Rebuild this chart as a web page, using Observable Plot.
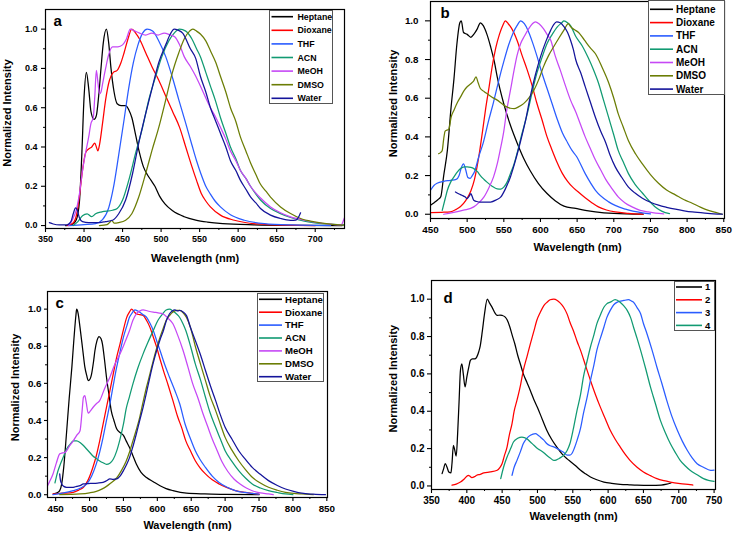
<!DOCTYPE html>
<html><head><meta charset="utf-8">
<script src="https://cdn.jsdelivr.net/npm/d3@7"></script>
<script src="https://cdn.jsdelivr.net/npm/@observablehq/plot@0.6"></script>
<style>
body{margin:0;background:#fff;}
#root{position:relative;width:733px;height:533px;overflow:hidden;font-family:"Liberation Sans",Arial,sans-serif;font-weight:bold;}
.panel{position:absolute;}
.legend{position:absolute;overflow:visible;}
</style></head><body><div id="root"></div>
<script>
// ---------- names, colours, ticks ----------
const solvents = ["Heptane","Dioxane","THF","ACN","MeOH","DMSO","Water"];
const solventColors = ["#000000","#ff0000","#2a5cff","#119a72","#c648f5","#6b7d05","#14149a"];
const samples = ["1","2","3","4"];
const sampleColors = ["#000000","#ff0000","#2a5cff","#119a72"];
const yTicks = [0,0.2,0.4,0.6,0.8,1.0];
const yMinor = [0.1,0.3,0.5,0.7,0.9];
const xTicksA = [350,400,450,500,550,600,650,700];
const xTicksB = [450,500,550,600,650,700,750,800,850];
const xTicksD = [350,400,450,500,550,600,650,700,750];
const xLabel = "Wavelength (nm)";
const yLabel = "Normalized Intensity";

// ---------- panel a ----------
const a_Heptane = [[376,0],[384,0.005],[390,0.03],[394,0.12],[397,0.35],[400,0.65],[403,0.78],[406,0.7],[409,0.58],[413,0.54],[416,0.56],[419,0.66],[422,0.8],[425,0.93],[429,1.0],[432,0.93],[435,0.8],[439,0.68],[443,0.62],[448,0.61],[454,0.61],[458,0.59],[462,0.55],[467,0.46],[472,0.37],[477,0.3],[482,0.26],[487,0.23],[492,0.2],[498,0.15],[505,0.11],[515,0.075],[530,0.045],[545,0.028],[560,0.018],[580,0.01],[620,0.004],[680,0.001],[735,0]];
const a_Dioxane = [[378,0],[385,0.01],[390,0.05],[394,0.15],[398,0.28],[402,0.37],[406,0.39],[410,0.4],[414,0.42],[416,0.4],[418,0.38],[420,0.41],[424,0.52],[428,0.64],[433,0.74],[438,0.78],[443,0.79],[448,0.83],[452,0.88],[457,0.95],[462,1.0],[467,0.98],[472,0.95],[480,0.88],[488,0.81],[497,0.74],[506,0.66],[515,0.58],[524,0.5],[532,0.4],[540,0.3],[546,0.23],[552,0.165],[558,0.125],[564,0.095],[577,0.053],[595,0.027],[625,0.008],[660,0.002],[700,0]];
const a_THF = [[380,0],[400,0.005],[415,0.01],[424,0.03],[432,0.09],[438,0.19],[445,0.36],[452,0.54],[458,0.7],[464,0.83],[470,0.92],[476,0.98],[482,1.0],[489,0.99],[497,0.94],[506,0.86],[515,0.75],[523,0.64],[532,0.52],[540,0.41],[546,0.33],[552,0.26],[558,0.2],[564,0.16],[570,0.125],[577,0.095],[590,0.055],[608,0.027],[634,0.01],[670,0.003],[720,0]];
const a_ACN = [[386,0],[392,0.02],[398,0.05],[404,0.06],[410,0.045],[415,0.06],[423,0.07],[437,0.078],[443,0.087],[450,0.13],[458,0.23],[467,0.37],[476,0.5],[484,0.64],[493,0.76],[501,0.86],[510,0.94],[517,0.98],[524,1.0],[532,0.99],[540,0.95],[546,0.9],[551,0.86],[558,0.78],[564,0.71],[571,0.63],[577,0.55],[584,0.47],[590,0.4],[597,0.34],[603,0.28],[610,0.24],[616,0.2],[623,0.16],[629,0.13],[642,0.087],[655,0.061],[668,0.041],[686,0.022],[712,0.008],[738,0.003]];
const a_MeOH = [[380,0],[385,0.03],[390,0.08],[394,0.16],[398,0.28],[402,0.37],[406,0.45],[409,0.52],[412,0.55],[414,0.66],[416,0.79],[418,0.73],[420,0.67],[422,0.68],[424,0.72],[428,0.8],[432,0.87],[437,0.91],[444,0.91],[450,0.92],[455,0.95],[460,1.0],[466,0.99],[472,0.98],[480,0.97],[488,0.98],[496,0.97],[504,0.98],[512,0.97],[518,0.96],[524,0.92],[530,0.86],[538,0.81],[545,0.76],[551,0.71],[558,0.65],[564,0.6],[571,0.55],[577,0.5],[584,0.44],[590,0.38],[597,0.33],[603,0.28],[610,0.24],[616,0.2],[623,0.165],[629,0.14],[642,0.095],[655,0.065],[668,0.044],[686,0.027],[712,0.01],[734,0.003],[736,0.02],[738,0.04]];
const a_DMSO = [[420,0],[430,0.005],[433,0.015],[436,0.027],[439,0.012],[445,0.015],[454,0.027],[462,0.06],[471,0.145],[480,0.265],[488,0.38],[497,0.5],[506,0.64],[514,0.77],[523,0.88],[530,0.95],[537,0.99],[541,1.0],[546,0.99],[551,0.975],[558,0.94],[564,0.89],[571,0.83],[577,0.76],[584,0.68],[590,0.6],[597,0.53],[603,0.45],[610,0.38],[616,0.32],[623,0.26],[629,0.21],[636,0.175],[642,0.145],[655,0.095],[668,0.061],[681,0.036],[699,0.019],[720,0.007],[738,0.002]];
const a_Water = [[355,0.015],[360,0.008],[368,0.003],[378,0.004],[383,0.02],[386,0.06],[389,0.09],[391,0.08],[394,0.04],[398,0.02],[406,0.015],[420,0.015],[428,0.02],[437,0.027],[445,0.06],[454,0.13],[463,0.265],[471,0.42],[480,0.57],[489,0.71],[497,0.83],[506,0.92],[512,0.975],[517,1.0],[522,0.995],[528,0.98],[538,0.9],[545,0.85],[551,0.76],[558,0.68],[564,0.6],[571,0.53],[577,0.47],[584,0.4],[590,0.33],[597,0.28],[603,0.23],[610,0.185],[616,0.146],[623,0.115],[629,0.087],[642,0.053],[655,0.036],[668,0.027],[675,0.028],[678,0.04],[681,0.065]];

// ---------- panel b ----------
const b_Heptane = [[450,0.047],[455,0.06],[460,0.075],[464,0.09],[468,0.2],[473,0.33],[478,0.55],[482,0.7],[486,0.88],[490,0.99],[492,1.0],[495,0.94],[500,0.93],[505,0.915],[509,0.93],[514,0.96],[518,0.99],[522,0.975],[527,0.93],[532,0.866],[537,0.79],[541,0.71],[550,0.57],[559,0.46],[568,0.37],[577,0.29],[586,0.225],[597,0.16],[609,0.107],[620,0.07],[632,0.042],[648,0.03],[661,0.02],[675,0.012],[700,0.004],[740,0]];
const b_Dioxane = [[450,0.008],[465,0.01],[477,0.012],[485,0.025],[491,0.04],[498,0.07],[505,0.12],[510,0.18],[516,0.3],[521,0.43],[525,0.54],[530,0.66],[534,0.76],[539,0.86],[544,0.93],[549,0.98],[552,1.0],[556,0.985],[560,0.965],[568,0.9],[575,0.82],[582,0.745],[589,0.66],[595,0.575],[602,0.49],[609,0.4],[616,0.33],[623,0.265],[630,0.21],[637,0.17],[644,0.14],[650,0.12],[661,0.085],[670,0.06],[679,0.038],[690,0.022],[702,0.012],[720,0.005],[740,0]];
const b_THF = [[450,0.124],[455,0.15],[459,0.16],[468,0.17],[477,0.175],[485,0.18],[489,0.2],[492,0.24],[495,0.26],[498,0.23],[501,0.19],[504,0.185],[507,0.2],[510,0.22],[516,0.3],[522,0.37],[529,0.48],[536,0.58],[543,0.69],[550,0.79],[557,0.88],[563,0.94],[568,0.975],[573,1.0],[578,0.985],[583,0.95],[589,0.89],[595,0.82],[602,0.73],[609,0.65],[616,0.57],[623,0.49],[630,0.42],[637,0.37],[643,0.33],[649,0.3],[661,0.21],[675,0.124],[693,0.064],[716,0.026],[739,0.007],[750,0.002]];
const b_ACN = [[466,0.02],[470,0.08],[473,0.124],[478,0.17],[482,0.193],[487,0.22],[491,0.236],[496,0.245],[500,0.245],[505,0.242],[509,0.236],[514,0.22],[518,0.2],[523,0.18],[527,0.166],[534,0.145],[541,0.131],[546,0.13],[550,0.14],[555,0.17],[559,0.21],[564,0.26],[568,0.314],[575,0.42],[582,0.52],[588,0.62],[595,0.728],[602,0.81],[609,0.883],[616,0.93],[623,0.969],[629,0.99],[632,1.0],[637,0.99],[641,0.975],[648,0.92],[657,0.87],[665,0.81],[672,0.75],[679,0.68],[686,0.59],[693,0.5],[700,0.41],[706,0.33],[713,0.27],[720,0.21],[729,0.155],[739,0.11],[748,0.07],[757,0.036],[766,0.015],[776,0.003]];
const b_MeOH = [[468,0],[480,0.008],[495,0.021],[509,0.038],[516,0.06],[523,0.09],[530,0.14],[536,0.193],[541,0.26],[545,0.331],[550,0.43],[554,0.538],[559,0.64],[564,0.745],[568,0.82],[573,0.883],[578,0.92],[584,0.96],[589,0.985],[593,0.995],[598,0.985],[604,0.96],[609,0.93],[614,0.9],[620,0.82],[627,0.745],[634,0.665],[641,0.59],[648,0.53],[655,0.46],[661,0.4],[668,0.34],[675,0.28],[682,0.23],[689,0.18],[697,0.135],[706,0.09],[715,0.06],[725,0.038],[736,0.02],[747,0.012],[757,0.006],[768,0.002]];
const b_DMSO = [[461,0.313],[464,0.32],[466,0.33],[468,0.39],[470,0.43],[475,0.44],[478,0.5],[482,0.538],[487,0.58],[491,0.607],[496,0.64],[500,0.659],[505,0.675],[509,0.69],[512,0.71],[515,0.68],[518,0.65],[523,0.635],[527,0.624],[534,0.605],[541,0.59],[548,0.57],[554,0.555],[559,0.548],[564,0.546],[570,0.555],[577,0.572],[584,0.6],[591,0.641],[598,0.7],[604,0.762],[611,0.82],[618,0.866],[625,0.91],[632,0.952],[638,0.986],[641,0.97],[646,0.955],[652,0.94],[660,0.9],[668,0.86],[675,0.83],[684,0.76],[693,0.68],[700,0.6],[706,0.52],[713,0.45],[720,0.38],[730,0.31],[739,0.26],[750,0.205],[761,0.16],[772,0.125],[784,0.1],[796,0.075],[807,0.057],[818,0.037],[829,0.02],[840,0.008],[848,0]];
const b_Water = [[484,0.115],[489,0.105],[493,0.098],[497,0.09],[500,0.081],[503,0.095],[505,0.107],[507,0.09],[509,0.072],[513,0.066],[518,0.063],[525,0.063],[532,0.063],[540,0.075],[546,0.09],[552,0.13],[559,0.193],[566,0.28],[573,0.38],[580,0.49],[586,0.607],[593,0.72],[600,0.814],[607,0.89],[614,0.952],[618,0.98],[622,0.995],[627,0.99],[632,0.97],[637,0.94],[641,0.9],[645,0.85],[648,0.8],[655,0.73],[661,0.66],[668,0.58],[675,0.5],[682,0.43],[689,0.37],[695,0.305],[702,0.245],[711,0.19],[720,0.14],[729,0.11],[739,0.083],[750,0.062],[761,0.047],[772,0.036],[784,0.026],[796,0.018],[807,0.012],[828,0.005],[848,0]];

// ---------- panel c ----------
const c_Heptane = [[447,0.004],[452,0.01],[456,0.022],[459,0.06],[462,0.15],[466,0.33],[470,0.52],[474,0.69],[477,0.84],[480,0.97],[481,1.0],[483,0.98],[486,0.9],[490,0.78],[493,0.69],[496,0.64],[498,0.615],[501,0.625],[503,0.65],[506,0.72],[508,0.777],[511,0.83],[514,0.852],[517,0.84],[519,0.813],[522,0.73],[525,0.633],[529,0.53],[532,0.453],[536,0.4],[540,0.355],[545,0.335],[550,0.32],[554,0.29],[559,0.254],[564,0.21],[569,0.165],[576,0.12],[584,0.093],[594,0.07],[604,0.048],[613,0.033],[623,0.022],[643,0.008],[670,0.004],[700,0.002],[750,0]];
const c_Dioxane = [[446,0.004],[460,0.008],[476,0.013],[484,0.025],[491,0.04],[498,0.08],[505,0.148],[510,0.21],[515,0.29],[520,0.38],[525,0.471],[530,0.56],[535,0.651],[540,0.74],[545,0.813],[550,0.89],[555,0.957],[559,0.985],[562,1.0],[566,0.985],[569,0.975],[574,0.97],[579,0.966],[584,0.94],[589,0.903],[594,0.85],[599,0.795],[604,0.73],[609,0.669],[616,0.59],[623,0.507],[630,0.42],[636,0.36],[642,0.29],[649,0.235],[656,0.183],[663,0.145],[671,0.112],[681,0.08],[691,0.058],[703,0.038],[715,0.022],[730,0.012],[740,0.007],[750,0.003]];
const c_THF = [[446,0],[460,0.008],[476,0.022],[486,0.035],[496,0.058],[503,0.1],[510,0.166],[515,0.23],[520,0.309],[525,0.4],[530,0.489],[535,0.59],[540,0.687],[545,0.77],[550,0.849],[555,0.91],[559,0.957],[563,0.98],[567,0.996],[571,0.99],[574,0.984],[579,0.97],[584,0.957],[589,0.925],[594,0.885],[599,0.83],[604,0.777],[611,0.7],[618,0.633],[626,0.56],[633,0.49],[641,0.38],[649,0.3],[656,0.237],[663,0.19],[671,0.147],[681,0.1],[691,0.066],[703,0.04],[715,0.022],[728,0.012],[740,0.007],[750,0.003]];
const c_ACN = [[449,0.064],[452,0.11],[456,0.155],[461,0.2],[466,0.245],[471,0.27],[476,0.29],[481,0.29],[486,0.281],[491,0.265],[496,0.245],[501,0.225],[505,0.209],[510,0.195],[515,0.182],[520,0.172],[525,0.164],[530,0.17],[535,0.191],[540,0.235],[545,0.3],[550,0.38],[554,0.462],[559,0.53],[564,0.597],[571,0.68],[579,0.759],[586,0.82],[594,0.885],[601,0.94],[608,0.975],[613,0.995],[618,1.0],[623,0.99],[628,0.975],[633,0.955],[638,0.92],[642,0.885],[649,0.8],[656,0.705],[664,0.615],[671,0.525],[678,0.44],[686,0.363],[693,0.3],[700,0.237],[710,0.18],[720,0.13],[730,0.09],[740,0.058],[752,0.036],[764,0.022],[777,0.012],[789,0.004],[800,0]];
const c_MeOH = [[437,0.04],[441,0.07],[446,0.11],[451,0.17],[456,0.22],[460,0.225],[464,0.228],[470,0.26],[476,0.29],[481,0.32],[486,0.345],[489,0.45],[491,0.525],[493,0.534],[495,0.5],[498,0.44],[501,0.45],[505,0.47],[510,0.49],[515,0.507],[522,0.57],[530,0.633],[537,0.7],[545,0.759],[552,0.82],[559,0.885],[564,0.94],[569,0.975],[574,0.99],[579,0.996],[586,0.99],[594,0.984],[601,0.98],[608,0.975],[616,0.95],[623,0.921],[630,0.86],[638,0.777],[645,0.69],[652,0.6],[660,0.52],[667,0.44],[674,0.37],[681,0.3],[688,0.24],[695,0.18],[704,0.125],[713,0.085],[722,0.058],[732,0.035],[741,0.02],[752,0.01],[764,0.004],[771,0]];
const c_DMSO = [[456,0],[486,0.004],[500,0.01],[510,0.018],[518,0.03],[525,0.045],[532,0.065],[540,0.09],[547,0.13],[554,0.18],[559,0.23],[564,0.29],[569,0.35],[574,0.417],[579,0.5],[584,0.579],[589,0.65],[594,0.723],[599,0.79],[604,0.849],[609,0.9],[613,0.939],[618,0.965],[623,0.984],[628,0.993],[633,0.993],[638,0.98],[643,0.955],[649,0.9],[656,0.8],[664,0.7],[671,0.615],[678,0.53],[686,0.453],[693,0.38],[700,0.309],[710,0.24],[720,0.183],[730,0.135],[740,0.094],[752,0.063],[764,0.04],[777,0.024],[789,0.013],[801,0.007],[813,0.004],[830,0]];
const c_Water = [[456,0.112],[457,0.08],[459,0.058],[462,0.045],[466,0.04],[471,0.04],[476,0.04],[481,0.045],[486,0.049],[491,0.058],[498,0.06],[505,0.061],[512,0.063],[520,0.067],[525,0.075],[530,0.085],[535,0.083],[540,0.085],[545,0.1],[550,0.13],[555,0.165],[559,0.2],[564,0.26],[569,0.327],[574,0.4],[579,0.471],[584,0.55],[589,0.633],[594,0.71],[599,0.777],[604,0.835],[609,0.885],[613,0.935],[618,0.975],[622,0.99],[626,0.996],[630,0.99],[633,0.993],[638,0.985],[643,0.965],[649,0.9],[656,0.831],[664,0.75],[671,0.669],[678,0.59],[686,0.507],[693,0.43],[700,0.363],[710,0.3],[720,0.237],[730,0.19],[740,0.147],[752,0.11],[764,0.076],[777,0.05],[789,0.031],[801,0.018],[813,0.008],[830,0.003],[848,0]];

// ---------- panel d ----------
const d_1 = [[365,0.066],[367,0.09],[369.5,0.12],[372,0.1],[374.5,0.075],[377.5,0.07],[379,0.12],[381,0.217],[383,0.19],[385,0.16],[387,0.28],[389,0.45],[391,0.62],[393,0.654],[395,0.6],[397.5,0.53],[400,0.583],[403,0.64],[405,0.672],[408,0.681],[411,0.68],[414,0.69],[417,0.72],[419,0.75],[422,0.83],[425,0.92],[429,1.0],[432,0.98],[436,0.955],[440,0.925],[443,0.913],[447,0.915],[450,0.913],[454,0.905],[457,0.89],[461,0.85],[464,0.81],[468,0.76],[472,0.7],[476,0.65],[480,0.6],[485,0.555],[490,0.51],[495,0.462],[500,0.42],[507,0.355],[513,0.3],[520,0.25],[528,0.205],[535,0.17],[542,0.145],[547,0.13],[554,0.108],[561,0.084],[568,0.065],[575,0.048],[584,0.033],[594,0.021],[605,0.014],[617,0.009],[630,0.006],[641,0.004],[660,0.003],[675,0.005],[683,0.01],[689,0.016]];
const d_2 = [[379,0.004],[385,0.01],[391,0.021],[397,0.04],[402,0.057],[405,0.05],[407,0.045],[411,0.05],[414,0.057],[419,0.062],[424,0.07],[433,0.075],[443,0.084],[447,0.1],[450,0.12],[453,0.16],[457,0.209],[460,0.27],[464,0.334],[467,0.4],[471,0.459],[476,0.54],[480,0.619],[485,0.69],[490,0.762],[495,0.83],[499,0.886],[504,0.93],[509,0.966],[514,0.985],[518,0.997],[523,1.0],[528,0.993],[532,0.98],[537,0.957],[542,0.92],[546,0.876],[551,0.83],[556,0.775],[561,0.726],[568,0.645],[575,0.565],[582,0.49],[589,0.422],[596,0.36],[603,0.298],[610,0.25],[617,0.209],[624,0.17],[631,0.137],[641,0.1],[650,0.075],[660,0.055],[669,0.039],[679,0.028],[688,0.021],[702,0.013],[716,0.007],[720,0.005]];
const d_3 = [[464,0.057],[467,0.1],[471,0.137],[476,0.185],[480,0.227],[485,0.255],[490,0.271],[497,0.28],[501,0.272],[504,0.262],[509,0.245],[513,0.227],[518,0.215],[523,0.209],[528,0.2],[532,0.191],[537,0.18],[542,0.165],[546,0.165],[549,0.175],[552,0.2],[556,0.244],[561,0.31],[565,0.387],[570,0.47],[575,0.565],[580,0.65],[584,0.726],[589,0.79],[594,0.85],[598,0.9],[603,0.94],[608,0.97],[613,0.984],[618,0.99],[622,0.993],[629,0.997],[633,0.99],[636,0.984],[641,0.955],[646,0.922],[650,0.87],[655,0.815],[662,0.73],[669,0.637],[676,0.55],[683,0.458],[690,0.375],[698,0.298],[705,0.24],[712,0.191],[719,0.15],[726,0.119],[735,0.1],[745,0.084],[750,0.085]];
const d_4 = [[448,0.039],[452,0.1],[457,0.155],[462,0.2],[466,0.235],[472,0.255],[478,0.262],[485,0.253],[490,0.235],[495,0.218],[500,0.2],[504,0.191],[509,0.178],[513,0.164],[518,0.15],[523,0.137],[527,0.14],[530,0.146],[534,0.155],[537,0.164],[542,0.19],[546,0.227],[551,0.31],[556,0.405],[561,0.49],[565,0.583],[570,0.665],[575,0.744],[580,0.81],[584,0.868],[589,0.915],[594,0.957],[598,0.975],[603,0.984],[610,0.997],[617,0.984],[622,0.965],[627,0.94],[632,0.9],[636,0.85],[641,0.79],[646,0.726],[653,0.63],[660,0.529],[667,0.44],[674,0.351],[681,0.285],[688,0.227],[695,0.18],[702,0.137],[709,0.108],[716,0.084],[726,0.06],[735,0.039],[742,0.03],[750,0.025]];

// ---------- layout ----------
const mid = v => v.slice(0,-1).map((t,i)=>(t+v[i+1])/2);
const panels = [
  {letter:"a", left:0, top:0, width:366, height:266, m:[9,22,38,45], xd:[350,738], yd:[-0.015,1.1],
   xt:xTicksA, xm:[...mid(xTicksA),725], names:solvents, colors:solventColors,
   series:[a_Heptane,a_Dioxane,a_THF,a_ACN,a_MeOH,a_DMSO,a_Water],
   fs:9, ytick:4, ypad:4, xtick:4, xpad:3, xlabDy:29.5, ylabDx:-38, ylabDy:-6, letDx:8, letDy:6,
   leg:{left:269, top:10, w:64, h:94, r0:6.7, step:13.6, l0:2.5, l1:24, tx:28.5, fs:8.8}},
  {letter:"b", left:366, top:0, width:367, height:266, m:[1,9,48,64], xd:[450,851], yd:[-0.022,1.1],
   xt:xTicksB, xm:mid(xTicksB), names:solvents, colors:solventColors,
   series:[b_Heptane,b_Dioxane,b_THF,b_ACN,b_MeOH,b_DMSO,b_Water],
   fs:9.8, ytick:5, ypad:7, xtick:4, xpad:4, xlabDy:28.5, ylabDx:-37, ylabDy:-6.5, letDx:10, letDy:6,
   leg:{left:648, top:0, w:77, h:95, r0:9.3, step:13.3, l0:2, l1:25, tx:28, fs:10}},
  {letter:"c", left:0, top:266, width:366, height:267, m:[25,39,36,47], xd:[438,851], yd:[-0.015,1.095],
   xt:xTicksB, xm:mid(xTicksB), names:solvents, colors:solventColors,
   series:[c_Heptane,c_Dioxane,c_THF,c_ACN,c_MeOH,c_DMSO,c_Water],
   fs:9.8, ytick:3, ypad:3, xtick:4, xpad:4, xlabDy:27.5, ylabDx:-32, ylabDy:-7, letDx:8, letDy:6,
   leg:{left:257, top:293, w:67, h:89, r0:6.3, step:12.9, l0:2, l1:25, tx:28, fs:9.6}},
  {letter:"d", left:366, top:266, width:367, height:267, m:[14,18,44,65], xd:[350,752], yd:[-0.019,1.1],
   xt:xTicksD, xm:mid(xTicksD), names:samples, colors:sampleColors,
   series:[d_1,d_2,d_3,d_4],
   fs:10, ytick:4, ypad:3, xtick:4, xpad:3, xlabDy:27, ylabDx:-38, ylabDy:-6.4, letDx:12, letDy:11.5,
   leg:{left:674, top:281, w:41, h:50, r0:6, step:12.8, l0:2, l1:28, tx:31, fs:9.5}}
];

const root = document.getElementById("root");
for (const p of panels) {
  const marks = [];
  p.series.forEach((s,i) => marks.push(Plot.line(s, {x: d=>d[0], y: d=>d[1], stroke: p.colors[i], strokeWidth: 1.25, curve: "monotone-x", clip: true})));
  marks.push(Plot.frame({stroke: "#000", strokeWidth: 1.2}));
  marks.push(Plot.axisX({ticks: p.xt, tickSize: p.xtick, tickPadding: p.xpad, tickFormat: d=>String(d), fontSize: p.fs, label: null, strokeWidth: 1.1}));
  marks.push(Plot.axisX({ticks: p.xm, tickSize: 2, tickFormat: () => "", label: null, strokeWidth: 1}));
  marks.push(Plot.axisY({ticks: yTicks, tickSize: p.ytick, tickPadding: p.ypad, tickFormat: d=>d.toFixed(1), fontSize: p.fs, label: null, strokeWidth: 1.1}));
  marks.push(Plot.axisY({ticks: yMinor, tickSize: 2, tickFormat: () => "", label: null, strokeWidth: 1}));
  marks.push(Plot.text([xLabel], {text: d=>d, frameAnchor: "bottom", textAnchor: "middle", lineAnchor: "middle", dy: p.xlabDy, fontSize: 11, fontWeight: "bold"}));
  marks.push(Plot.text([yLabel], {text: d=>d, frameAnchor: "left", textAnchor: "middle", lineAnchor: "middle", rotate: -90, dx: p.ylabDx, dy: p.ylabDy, fontSize: 11, fontWeight: "bold"}));
  marks.push(Plot.text([p.letter], {text: d=>d, frameAnchor: "top-left", textAnchor: "start", lineAnchor: "top", dx: p.letDx, dy: p.letDy, fontSize: 15, fontWeight: "bold"}));
  const svg = Plot.plot({
    width: p.width, height: p.height,
    marginTop: p.m[0], marginRight: p.m[1], marginBottom: p.m[2], marginLeft: p.m[3],
    x: {domain: p.xd}, y: {domain: p.yd},
    style: {fontFamily: '"Liberation Sans", Arial, sans-serif', fontWeight: "bold", color: "#000", background: "transparent", overflow: "visible", maxWidth: "none"},
    marks
  });
  const div = document.createElement("div");
  div.className = "panel";
  div.style.left = p.left + "px"; div.style.top = p.top + "px";
  div.style.width = p.width + "px"; div.style.height = p.height + "px";
  div.appendChild(svg);
  root.appendChild(div);

  // legend
  const L = p.leg;
  const lg = d3.select(root).append("svg").attr("class","legend")
    .style("left", L.left + "px").style("top", L.top + "px")
    .attr("width", L.w).attr("height", L.h);
  lg.append("rect").attr("x",0.5).attr("y",0.5).attr("width",L.w-1).attr("height",L.h-1)
    .attr("fill","#fff").attr("stroke","#555").attr("stroke-width",1);
  p.names.forEach((n,i) => {
    const y = L.r0 + i*L.step;
    lg.append("line").attr("x1",L.l0).attr("x2",L.l1).attr("y1",y).attr("y2",y)
      .attr("stroke",p.colors[i]).attr("stroke-width",1.6);
    lg.append("text").attr("x",L.tx).attr("y",y).attr("dy","0.35em")
      .attr("font-size",L.fs).attr("font-weight","bold").attr("fill","#000")
      .attr("font-family",'"Liberation Sans", Arial, sans-serif').text(n);
  });
}
</script></body></html>
